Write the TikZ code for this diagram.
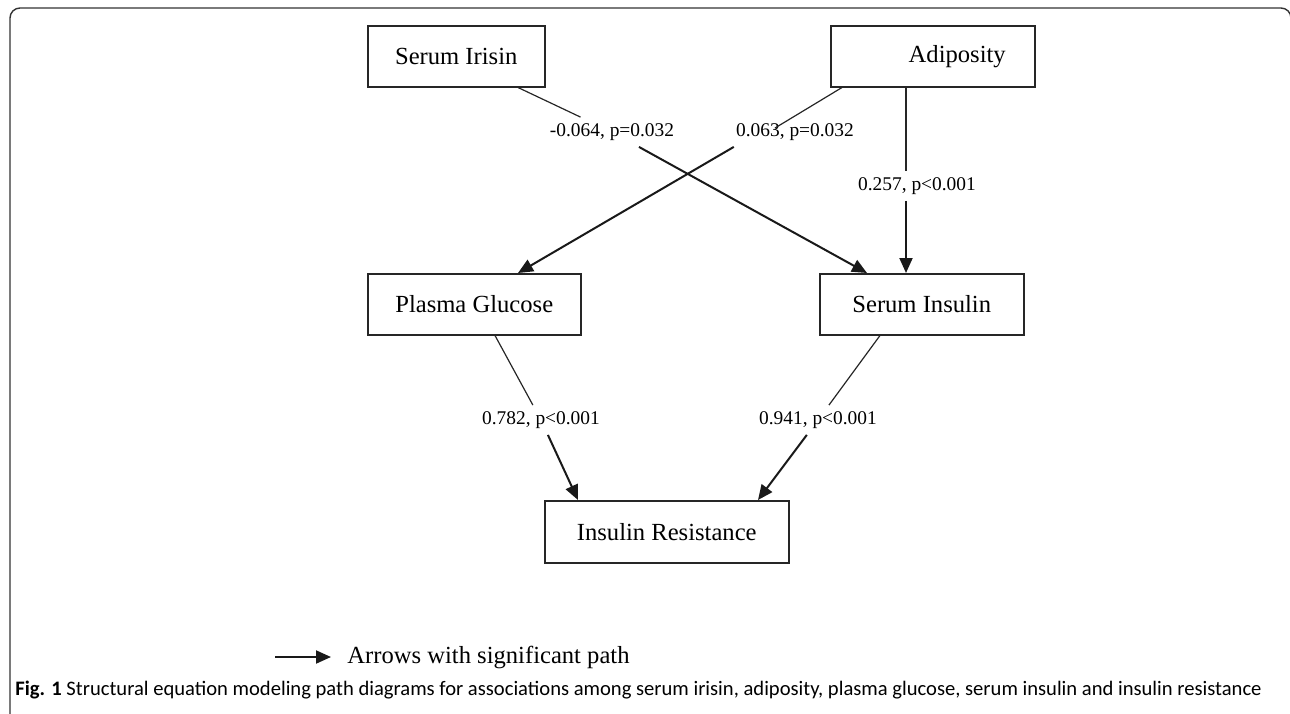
\documentclass[tikz,border=0pt]{standalone}
\usepackage{fontspec}
\setmainfont{Liberation Serif}
\newfontfamily\capfont{Carlito}
\usetikzlibrary{arrows.meta,positioning,calc}

\tikzset{
  box/.style = {draw=black!85, line width=0.75pt, rectangle, minimum height=30.5pt,
    inner sep=0pt, anchor=north west, font=\fontsize{12.3}{14}\selectfont},
  coef/.style = {inner sep=3pt, font=\fontsize{9.7}{11}\selectfont},
  lead/.style = {draw=black!85, line width=0.6pt},
  sig/.style = {draw=black!90, line width=1pt, -{Triangle[length=7.5pt,width=6.5pt]}}
}

\begin{document}
\begin{tikzpicture}[x=0.5pt,y=-0.5pt]
    \useasboundingbox (0,0) rectangle (1290,713);
    % frame round the figure
    \draw[black!80, line width=0.7pt, rounded corners=5pt]
        (10,720) -- (10,8) -- (1291,8) -- (1291,720);

    % variables
    \node[box, minimum width=88.5pt] (irisin) at (367,25) {Serum Irisin};
    \node[box, minimum width=102pt, text width=73pt, align=right, inner xsep=14.5pt]
        (adip) at (830,25) {Adiposity};
    \node[box, minimum width=106.5pt] (glucose) at (367,273) {Plasma Glucose};
    \node[box, minimum width=102pt] (insulin) at (819,273) {Serum Insulin};
    \node[box, minimum width=122pt, minimum height=31pt] (resist) at (544,500)
        {Insulin Resistance};

    % path coefficients
    \node[coef] (l1) at (612,132) {-0.064, p=0.032};
    \node[coef] (l2) at (795,132) {0.063, p=0.032};
    \node[coef] (l3) at (917,186) {0.257, p<0.001};
    \node[coef] (l4) at (541,420) {0.782, p<0.001};
    \node[coef] (l5) at (818,420) {0.941, p<0.001};

    % paths
    \draw[lead] ([xshift=75.5pt]irisin.south west) -- (l1);
    \draw[sig] (l1) -- ([xshift=24pt]insulin.north west);
    \draw[lead] ([xshift=6pt]adip.south west) -- ([xshift=-10pt,yshift=2pt]l2.center);
    \draw[sig] ([xshift=2pt]l2.south west) -- ([xshift=75.5pt]glucose.north west);
    \draw[lead] ([xshift=38pt]adip.south west) -- ([xshift=-5.5pt]l3.north);
    \draw[sig] ([xshift=-5.5pt]l3.south) -- ([xshift=43.5pt]insulin.north west);
    \draw[lead] ([xshift=64pt]glucose.south west) -- (l4);
    \draw[sig] (l4) -- ([xshift=17pt]resist.north west);
    \draw[lead] ([xshift=30.5pt]insulin.south west) -- (l5);
    \draw[sig] (l5) -- ([xshift=107pt]resist.north west);

    % legend and caption
    \coordinate (legstart) at (275,657);
    \node[anchor=west, inner sep=0pt, font=\fontsize{12.3}{14}\selectfont]
        (legend) at (347,657) {Arrows with significant path};
    \draw[sig] (legstart) -- ([xshift=-8pt]legend.west);
    \node[anchor=west, inner sep=0pt, font=\capfont\fontsize{10.3}{12}\selectfont]
        (caption) at (15,690) {\textbf{Fig. 1} Structural equation modeling path diagrams
        for associations among serum irisin, adiposity, plasma glucose, serum insulin and
        insulin resistance};
\end{tikzpicture}
\end{document}
